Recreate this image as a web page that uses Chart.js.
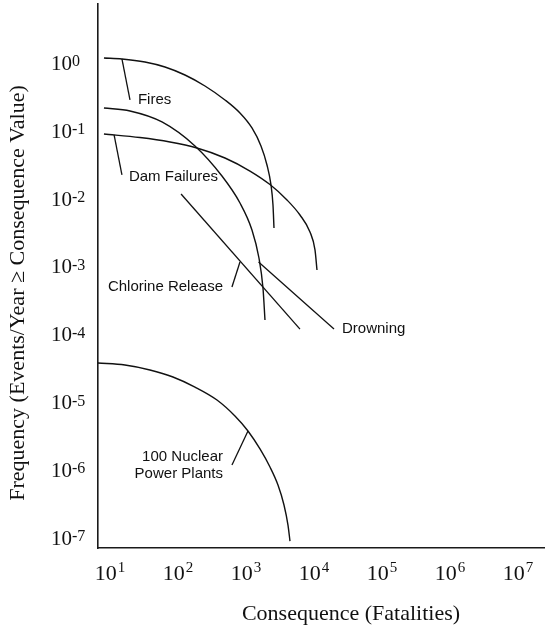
<!DOCTYPE html>
<html>
<head>
<meta charset="utf-8">
<script src="https://cdn.jsdelivr.net/npm/chart.js@4.4.1/dist/chart.umd.min.js"></script>
<style>
    html, body { margin: 0; padding: 0; background: #fff; }
    #wrap { width: 545px; height: 632px; position: relative; }
</style>
</head>
<body>
<div id="wrap"><canvas id="riskChart"></canvas></div>
<script>
// consequence (fatalities) vs frequency (events/year >= consequence)
const firesX = [8.16, 15.0, 32.7, 64.4, 126.8, 249.5, 491, 816, 1225, 1662, 2036, 2332, 2495, 2581];
const firesY = [1.185, 1.146, 1.035, 0.873, 0.665, 0.458, 0.285, 0.183, 0.110, 0.0597, 0.0313, 0.0159, 0.00804, 0.00368];

const drowningX = [8.16, 19.7, 58.2, 177.8, 443.6, 816, 1225, 1552, 1778, 1903];
const drowningY = [0.217, 0.196, 0.135, 0.0597, 0.0215, 0.00861, 0.00344, 0.00133, 0.00048, 0.000162];

const damX = [8.16, 27.6, 76.3, 190, 491, 1145, 2254, 4009, 6223, 8730, 10345, 11070];
const damY = [0.0897, 0.0796, 0.0684, 0.0557, 0.0397, 0.0255, 0.0161, 0.00954, 0.00573, 0.00322, 0.00175, 0.000885];

const chlorineX = [111, 6223];
const chlorineY = [0.0117, 0.000119];

const nuclearX = [6.66, 16.6, 38.7, 84.4, 177.8, 374.6, 688.6, 1070, 1607, 2254, 2955, 3622, 4146, 4436];
const nuclearY = [3.76e-5, 3.51e-5, 2.97e-5, 2.34e-5, 1.66e-5, 1.07e-5, 6.22e-6, 3.74e-6, 2.03e-6, 1.1e-6, 5.97e-7, 3.03e-7, 1.53e-7, 8.9e-8];

// leader lines from each label to its curve (start and end points)
const leaderX = [[15, 19.7], [11.5, 15], [622, 816], [1530, 19680], [622, 1070]];
const leaderY = [[1.146, 0.285], [0.0867, 0.0223], [0.000497, 0.00116], [0.00116, 0.000119], [1.18e-6, 3.74e-6]];

// curve labels and where they sit (in data units)
const labelText = [['Fires'], ['Dam Failures'], ['Chlorine Release'], ['Drowning'], ['100 Nuclear', 'Power Plants']];
const labelAtX = [25.8, 19, 459, 25800, 459];
const labelAtY = [0.285, 0.0208, 0.000497, 0.000119, 1.55e-6];
const labelAlign = ['left', 'left', 'right', 'left', 'right'];

const xTicks = [1e1, 1e2, 1e3, 1e4, 1e5, 1e6, 1e7];
const yTicks = [1, 1e-1, 1e-2, 1e-3, 1e-4, 1e-5, 1e-6, 1e-7];

const xTitle = 'Consequence (Fatalities)';
const yTitle = 'Frequency (Events/Year \u2265 Consequence Value)';

const ink = '#111';

function toPoints(xs, ys) {
    return xs.map((x, i) => ({ x: x, y: ys[i] }));
}

function curve(xs, ys) {
    return {
        data: toPoints(xs, ys),
        borderColor: ink,
        borderWidth: 1.4,
        pointRadius: 0,
        fill: false,
        cubicInterpolationMode: 'monotone'
    };
}

function straight(xs, ys) {
    return {
        data: toPoints(xs, ys),
        borderColor: ink,
        borderWidth: 1.3,
        pointRadius: 0,
        fill: false,
        tension: 0
    };
}

const datasets = [
    curve(firesX, firesY),
    curve(drowningX, drowningY),
    curve(damX, damY),
    straight(chlorineX, chlorineY),
    curve(nuclearX, nuclearY)
];
leaderX.forEach((lx, i) => datasets.push(straight(lx, leaderY[i])));

// tick labels as 10 with a raised exponent, plus titles and curve labels
const textPlugin = {
    id: 'riskText',
    afterDraw(chart) {
        const ctx = chart.ctx;
        const xs = chart.scales.x;
        const ys = chart.scales.y;
        ctx.save();
        ctx.fillStyle = ink;
        ctx.textBaseline = 'alphabetic';
        ctx.textAlign = 'left';

        ys.ticks.forEach(t => {
            const py = ys.getPixelForValue(t.value);
            const p = Math.round(Math.log10(t.value));
            ctx.font = '21px "Liberation Serif"';
            ctx.fillText('10', 51, py + 7);
            const w = ctx.measureText('10').width;
            ctx.font = '16px "Liberation Serif"';
            ctx.fillText(String(p), 51 + w, py + 3.5);
        });

        xs.ticks.forEach(t => {
            const px = xs.getPixelForValue(t.value);
            const p = String(Math.round(Math.log10(t.value)));
            ctx.font = '22px "Liberation Serif"';
            const w1 = ctx.measureText('10').width;
            ctx.font = '15px "Liberation Serif"';
            const w2 = ctx.measureText(p).width;
            const x0 = px - (w1 + w2 + 1) / 2;
            ctx.font = '22px "Liberation Serif"';
            ctx.fillText('10', x0, xs.bottom + 32);
            ctx.font = '15px "Liberation Serif"';
            ctx.fillText(p, x0 + w1 + 1, xs.bottom + 24);
        });

        ctx.font = '22px "Liberation Serif"';
        ctx.textAlign = 'center';
        ctx.textBaseline = 'middle';
        ctx.fillText(xTitle, 351, 614);
        ctx.save();
        ctx.translate(18, 293);
        ctx.rotate(-Math.PI / 2);
        ctx.fillText(yTitle, 0, 0);
        ctx.restore();

        ctx.font = '15px "Liberation Sans"';
        labelText.forEach((lines, i) => {
            const px = xs.getPixelForValue(labelAtX[i]);
            const py = ys.getPixelForValue(labelAtY[i]);
            ctx.textAlign = labelAlign[i];
            lines.forEach((s, j) => ctx.fillText(s, px, py + j * 17));
        });
        ctx.restore();
    }
};

function powerTicks(values) {
    return function (scale) {
        scale.ticks = values.map(v => ({ value: v }));
    };
}

new Chart(document.getElementById('riskChart'), {
    type: 'line',
    data: { datasets: datasets },
    options: {
        responsive: true,
        maintainAspectRatio: false,
        animation: false,
        layout: { padding: { left: 98, top: 4, right: 1, bottom: 84 } },
        plugins: {
            legend: { display: false },
            tooltip: { enabled: false }
        },
        scales: {
            x: {
                type: 'logarithmic',
                bounds: 'data',
                min: 6.67,
                max: 2.41e7,
                grid: { display: false, drawTicks: false },
                ticks: { display: false },
                border: { display: true, color: '#1a1a1a', width: 1.6 },
                afterBuildTicks: powerTicks(xTicks),
                afterFit: s => { s.height = 0; }
            },
            y: {
                type: 'logarithmic',
                bounds: 'data',
                min: 7.03e-8,
                max: 7.41,
                grid: { display: false, drawTicks: false },
                ticks: { display: false },
                border: { display: true, color: '#1a1a1a', width: 1.6 },
                afterBuildTicks: powerTicks(yTicks),
                afterFit: s => { s.width = 0; }
            }
        }
    },
    plugins: [textPlugin]
});
</script>
</body>
</html>
